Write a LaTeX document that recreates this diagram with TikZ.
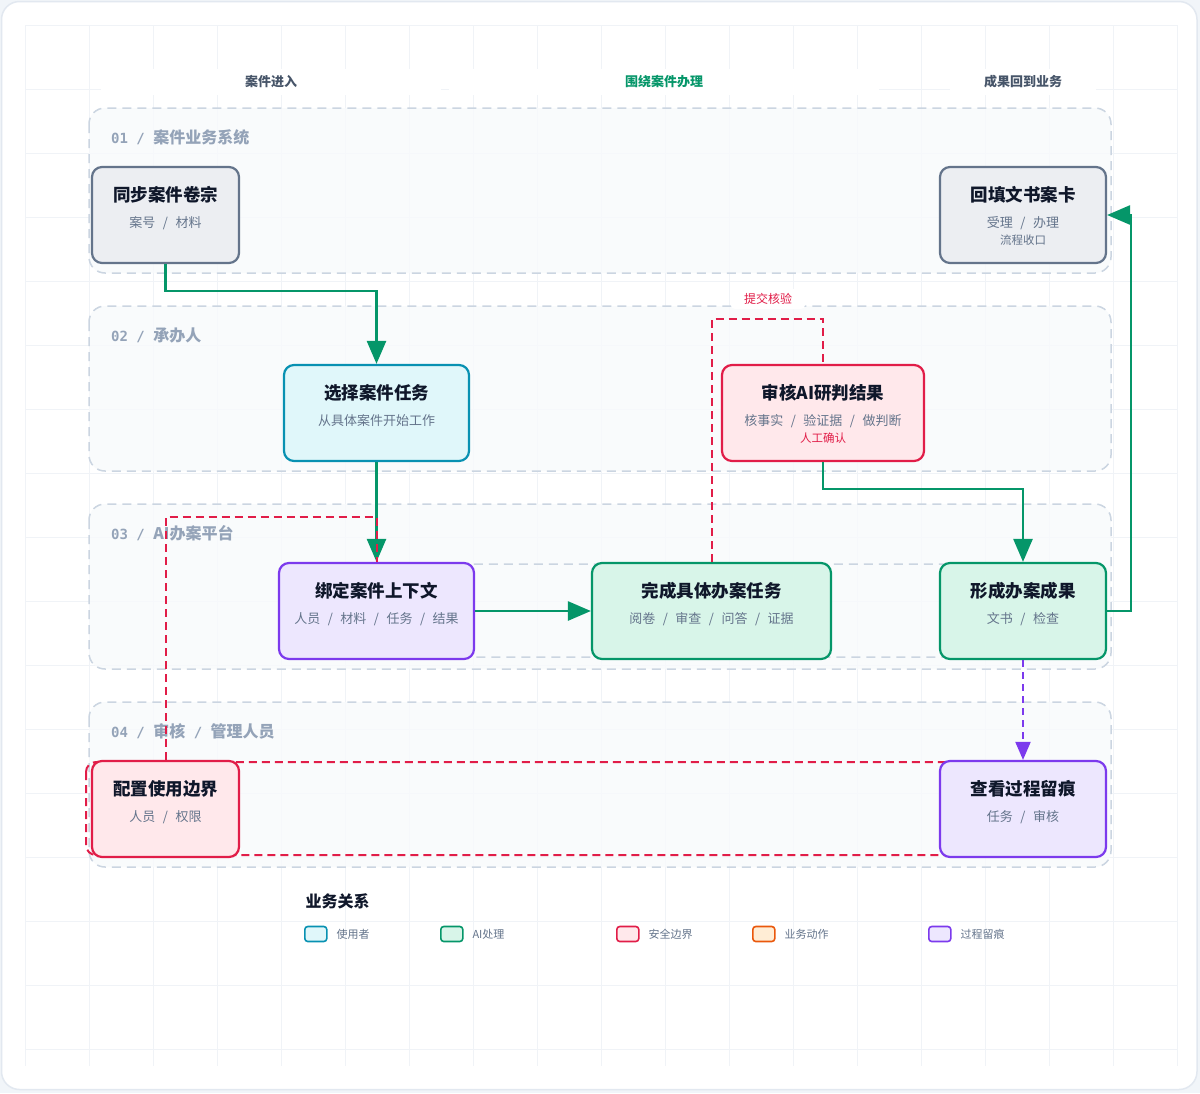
\documentclass[tikz,border=0pt]{standalone}
\usepackage{fontspec}
\setmainfont{Noto Sans CJK SC}
\newfontfamily\lanemono{DejaVu Sans Mono}
\usetikzlibrary{arrows.meta, positioning, backgrounds}
\definecolor{inkdark}{HTML}{0F172A}
\definecolor{inksub}{HTML}{64748B}
\definecolor{inklane}{HTML}{94A3B8}
\definecolor{inkhead}{HTML}{475569}
\definecolor{lanefill}{HTML}{F8FAFC}
\definecolor{laneline}{HTML}{CBD5E1}
\definecolor{gridline}{HTML}{F0F3F7}
\definecolor{cardline}{HTML}{E2E8F0}
\definecolor{pagebg}{HTML}{F1F5F9}
\definecolor{slateline}{HTML}{64748B}
\definecolor{slatefill}{HTML}{ECEEF2}
\definecolor{cyanline}{HTML}{0891B2}
\definecolor{cyanfill}{HTML}{E0F7FA}
\definecolor{greenline}{HTML}{059669}
\definecolor{greenfill}{HTML}{D8F5E9}
\definecolor{redline}{HTML}{E11D48}
\definecolor{redfill}{HTML}{FFE8EB}
\definecolor{purpleline}{HTML}{7C3AED}
\definecolor{purplefill}{HTML}{EDE7FE}
\definecolor{orangeline}{HTML}{EA580C}
\definecolor{orangefill}{HTML}{FFEDD5}
\newcommand{\lanenum}[1]{{\lanemono\bfseries\fontsize{14}{16}\selectfont #1\ /\ }}
\newcommand{\laneslash}{{\lanemono\bfseries\fontsize{14}{16}\selectfont\ /\ }}
\newcommand{\slashgap}{\hspace{7.5pt}/\hspace{7.5pt}}

\begin{document}
\begin{tikzpicture}[
    x=1pt, y=-1pt,
    lane/.style={draw=laneline, fill=lanefill, fill opacity=0.8, line width=1.5pt, dash pattern=on 9pt off 6pt, rounded corners=16pt},
    lanetag/.style={anchor=west, inner sep=0pt, text=inklane, font=\bfseries\fontsize{16}{18}\selectfont},
    colhead/.style={fill=white, minimum height=26pt, text=inkhead, font=\bfseries\fontsize{13}{15}\selectfont},
    card/.style={draw, line width=2.2pt, rounded corners=10pt, minimum height=96pt},
    cardtitle/.style={text=inkdark, font=\bfseries\fontsize{17.5}{20}\selectfont},
    cardsub/.style={text=inksub, font=\fontsize{13}{15}\selectfont},
    cardnote/.style={font=\fontsize{11.5}{13}\selectfont},
    flow/.style={draw=greenline, line width=2.6pt, -{Triangle[length=23pt, width=19pt]}},
    check/.style={draw=redline, line width=2pt, dash pattern=on 8pt off 5pt},
    trail/.style={draw=purpleline, line width=2pt, dash pattern=on 7pt off 5pt, -{Triangle[length=18pt, width=15pt]}},
    swatch/.style={draw, line width=1.6pt, rounded corners=3pt, minimum width=22pt, minimum height=15pt, anchor=west},
    keytext/.style={anchor=west, text=inksub, font=\fontsize{11}{13}\selectfont}
]
\useasboundingbox (0,0) rectangle (1200,1093);

% Column headers
\node[colhead, minimum width=340pt] (colIn) at (271,82) {案件进入};
\node[colhead, minimum width=430pt, text=greenline] (colWork) at (664,82) {围绕案件办理};
\node[colhead, minimum width=146pt] (colOut) at (1023,82) {成果回到业务};

% Lane labels
\node[lanetag] (laneA) at (111,137) {\lanenum{01}案件业务系统};
\node[lanetag] (laneB) at (111,335) {\lanenum{02}承办人};
\node[lanetag] (laneC) at (111,533) {\lanenum{03}AI办案平台};
\node[lanetag] (laneD) at (111,731) {\lanenum{04}审核\laneslash 管理人员};

% 01 Case system
\node[card, draw=slateline, fill=slatefill, minimum width=147pt] (sync) at (165.5,215) {};
\node[cardtitle] (syncT) at (165.5,195) {同步案件卷宗};
\node[cardsub] (syncS) at (165.5,223) {案号\slashgap 材料};

\node[card, draw=slateline, fill=slatefill, minimum width=166pt] (fill) at (1023,215) {};
\node[cardtitle] (fillT) at (1023,195) {回填文书案卡};
\node[cardsub] (fillS) at (1023,223) {受理\slashgap 办理};
\node[cardnote, text=inksub] (fillN) at (1023,240) {流程收口};

% 02 Handler
\node[card, draw=cyanline, fill=cyanfill, minimum width=185pt] (select) at (376.5,413) {};
\node[cardtitle] (selectT) at (376.5,393) {选择案件任务};
\node[cardsub] (selectS) at (376.5,421) {从具体案件开始工作};

\node[card, draw=redline, fill=redfill, minimum width=202pt] (review) at (823,413) {};
\node[cardtitle] (reviewT) at (823,393) {审核AI研判结果};
\node[cardsub] (reviewS) at (823,421) {核事实\slashgap 验证据\slashgap 做判断};
\node[cardnote, text=redline] (reviewN) at (823,438) {人工确认};

% 03 AI platform
\node[card, draw=purpleline, fill=purplefill, minimum width=195pt] (bind) at (376.5,611) {};
\node[cardtitle] (bindT) at (376.5,591) {绑定案件上下文};
\node[cardsub] (bindS) at (376.5,619) {人员\slashgap 材料\slashgap 任务\slashgap 结果};

\node[card, draw=greenline, fill=greenfill, minimum width=239pt] (done) at (711.5,611) {};
\node[cardtitle] (doneT) at (711.5,591) {完成具体办案任务};
\node[cardsub] (doneS) at (711.5,619) {阅卷\slashgap 审查\slashgap 问答\slashgap 证据};

\node[card, draw=greenline, fill=greenfill, minimum width=166pt] (result) at (1023,611) {};
\node[cardtitle] (resultT) at (1023,591) {形成办案成果};
\node[cardsub] (resultS) at (1023,619) {文书\slashgap 检查};

% 04 Review / admin
\node[card, draw=redline, fill=redfill, minimum width=147pt] (bound) at (165.5,809) {};
\node[cardtitle] (boundT) at (165.5,789) {配置使用边界};
\node[cardsub] (boundS) at (165.5,817) {人员\slashgap 权限};

\node[card, draw=purpleline, fill=purplefill, minimum width=166pt] (trace) at (1023,809) {};
\node[cardtitle] (traceT) at (1023,789) {查看过程留痕};
\node[cardsub] (traceS) at (1023,817) {任务\slashgap 审核};

% Main flow
\draw[flow] (sync.south) -- ++(0,27) -| (select.north);
\draw[flow] (select.south) -- (bind.north);
\draw[flow] (bind.east) -- (done.west);
\draw[flow] (review.south) -- ++(0,27) -| (result.north);
\draw[flow] (result.east) -- ++(24,0) |- (fill.east);
\draw[trail] (result.south) -- (trace.north);

% Boundary and check paths
\draw[check] (done.north) -- ++(0,-243) -| (review.north);
\node[fill=white, text=redline, font=\fontsize{12}{14}\selectfont, rounded corners=4pt, minimum width=74pt, minimum height=20pt] (checkTag) at (768,299) {提交核验};
\draw[check] (bound.north) -- ++(0,-243) -| (bind.north);

% Legend
\node[anchor=west, text=inkdark, font=\bfseries\fontsize{16}{18}\selectfont] (keyHead) at (302,901) {业务关系};
\foreach \kx/\kline/\kfill/\kname in {304/cyanline/cyanfill/使用者, 440/greenline/greenfill/AI处理, 616/redline/redfill/安全边界, 752/orangeline/orangefill/业务动作, 928/purpleline/purplefill/过程留痕} {
  \node[swatch, draw=\kline, fill=\kfill] (key-\kx) at (\kx,934) {};
  \node[keytext] (keyT-\kx) at (\kx+29,934) {\kname};
}

\begin{scope}[on background layer]
  % page, card and grid
  \fill[pagebg] (0,0) rectangle (1200,1093);
  \draw[cardline, fill=white, line width=1.5pt, rounded corners=18pt] (1.5,1.5) rectangle (1197,1089.5);
  \foreach \gx in {25,89,...,1177} \draw[gridline, line width=1pt] (\gx,25) -- (\gx,1066);
  \foreach \gy in {25,89,...,1049} \draw[gridline, line width=1pt] (25,\gy) -- (1177,\gy);
  % swim lanes
  \foreach \ly in {108,306,504,702} \draw[lane] (89,\ly) rectangle (1111,\ly+165);
  % groups
  \draw[laneline, line width=1.5pt, dash pattern=on 9pt off 6pt, rounded corners=10pt] (300,564) rectangle (1090,657);
  \draw[check, rounded corners=10pt] (86,762) rectangle (1000,855);
\end{scope}
\end{tikzpicture}
\end{document}
